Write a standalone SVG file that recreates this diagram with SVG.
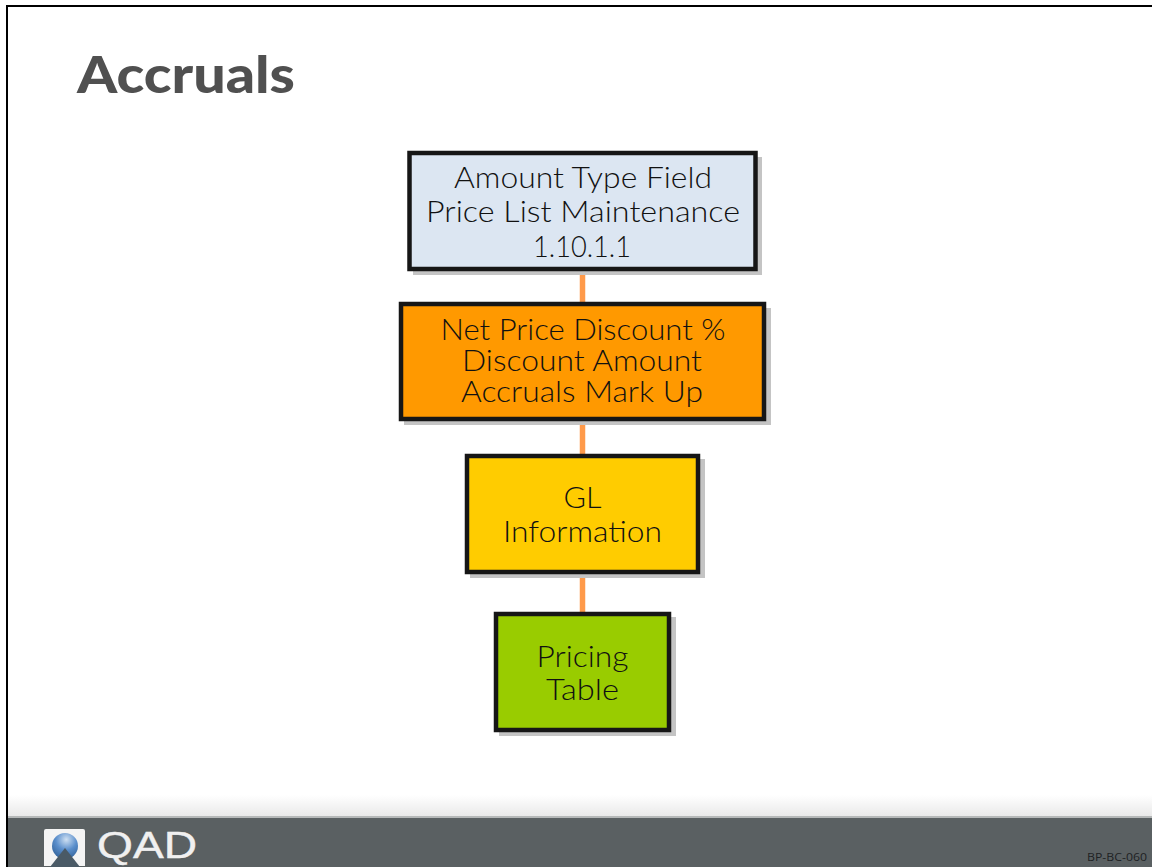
<svg xmlns="http://www.w3.org/2000/svg" width="1152" height="867" viewBox="0 0 1152 867">
<style>
.box{stroke:#161616;stroke-width:4.5}
.sh{fill:#c4c4c4}
.t{font-family:"Lato","Liberation Sans",Arial,sans-serif;font-weight:300;font-size:29px;fill:#111;text-anchor:middle}
.c{stroke:#ff9a4a;stroke-width:5.5;fill:none}
</style>
<defs>
<linearGradient id="fade" x1="0" y1="0" x2="0" y2="1"><stop offset="0" stop-color="#fff"/><stop offset="1" stop-color="#e8e8e8"/></linearGradient>
<radialGradient id="globe" cx="0.55" cy="0.25" r="0.8"><stop offset="0" stop-color="#cfe0f2"/><stop offset="0.5" stop-color="#5b8fcc"/><stop offset="1" stop-color="#2f5f96"/></radialGradient>
</defs>
<rect width="1152" height="867" fill="#fff"/>
<text x="77" y="93" font-family="Lato,'Liberation Sans',Arial,sans-serif" font-weight="900" font-size="52" fill="#505050" textLength="218" lengthAdjust="spacingAndGlyphs">Accruals</text>
<rect x="8" y="795" width="1144" height="22" fill="url(#fade)"/>
<rect x="8" y="817" width="1144" height="50" fill="#5a6062"/>
<rect x="8" y="816" width="1144" height="2" fill="#b5b8b8"/>
<path d="M7 867V6H1152" fill="none" stroke="#000" stroke-width="2"/>
<g id="logo">
<path d="M46 829H83Q85 829 85 831V866H78L65 849L54 866H44V831Q44 829 46 829Z" fill="#f4f4f4"/>
<circle cx="65" cy="846" r="13" fill="url(#globe)"/>
<path d="M50 867L65 848L80 867Z" fill="#4a5a66"/>
<text x="97" y="858" font-family="'Liberation Sans',Arial,sans-serif" font-size="36" fill="#f0f0f0" stroke="#f0f0f0" stroke-width="0.4" textLength="100" lengthAdjust="spacingAndGlyphs">QAD</text>
</g>
<text id="code" x="1087" y="861" font-family="'Open Sans','Liberation Sans',Arial,sans-serif" font-size="10.5" fill="#1e2224" textLength="60" lengthAdjust="spacingAndGlyphs">BP-BC-060</text>
<g id="connectors">
<path class="c" d="M582.5 273V303"/>
<path class="c" d="M582.5 424V455"/>
<path class="c" d="M582.5 577V613"/>
</g>
<g id="n1">
<rect class="sh" x="413" y="157" width="349" height="118"/>
<rect class="box" x="409.5" y="153" width="346" height="116" fill="#dce6f2"/>
<text class="t" x="583" y="188" textLength="258" lengthAdjust="spacingAndGlyphs">Amount Type Field</text>
<text class="t" x="583" y="222" textLength="314" lengthAdjust="spacingAndGlyphs">Price List Maintenance</text>
<text class="t" x="582" y="257" textLength="98" lengthAdjust="spacingAndGlyphs">1.10.1.1</text>
</g>
<g id="n2">
<rect class="sh" x="404" y="308" width="367" height="117"/>
<rect class="box" x="401" y="304" width="363" height="115" fill="#ff9900"/>
<text class="t" x="583" y="340" textLength="285" lengthAdjust="spacingAndGlyphs">Net Price Discount %</text>
<text class="t" x="582" y="371" textLength="240" lengthAdjust="spacingAndGlyphs">Discount Amount</text>
<text class="t" x="582" y="402" textLength="242" lengthAdjust="spacingAndGlyphs">Accruals Mark Up</text>
</g>
<g id="n3">
<rect class="sh" x="470" y="459" width="235" height="119"/>
<rect class="box" x="467" y="456" width="231" height="116" fill="#ffcc00"/>
<text class="t" x="582.5" y="508" textLength="38" lengthAdjust="spacingAndGlyphs">GL</text>
<text class="t" x="582.5" y="542" textLength="159" lengthAdjust="spacingAndGlyphs">Information</text>
</g>
<g id="n4">
<rect class="sh" x="499" y="617" width="177" height="119"/>
<rect class="box" x="496" y="614" width="173" height="116" fill="#99cc00"/>
<text class="t" x="582.5" y="667" textLength="92" lengthAdjust="spacingAndGlyphs">Pricing</text>
<text class="t" x="582.5" y="700" textLength="73" lengthAdjust="spacingAndGlyphs">Table</text>
</g>
</svg>
